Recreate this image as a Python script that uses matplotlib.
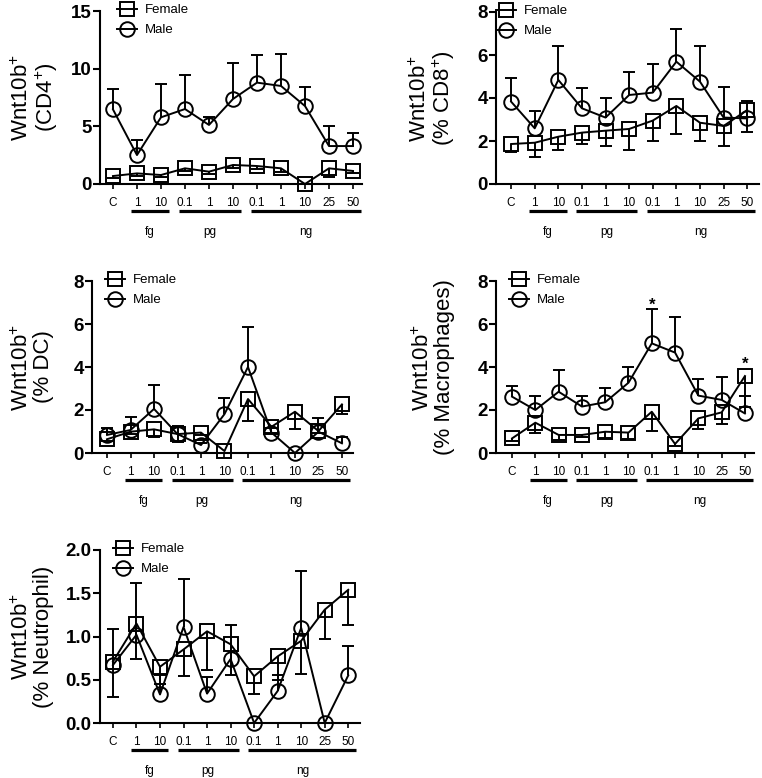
import matplotlib
matplotlib.use("Agg")
import matplotlib.pyplot as plt
import numpy as np

plt.rcParams['font.family'] = ['Liberation Sans', 'DejaVu Sans']
plt.rcParams['mathtext.fontset'] = 'custom'
plt.rcParams['mathtext.rm'] = 'Liberation Sans'
plt.rcParams['mathtext.it'] = 'Liberation Sans:italic'
plt.rcParams['mathtext.bf'] = 'Liberation Sans:bold'

# x categories (dose) and dose-unit groups
doses = ['C', '1', '10', '0.1', '1', '10', '0.1', '1', '10', '25', '50']
group_names = ['fg', 'pg', 'ng']
group_first = [1, 3, 6]
group_last = [2, 5, 10]

# CD4
cd4_female = [0.69, 0.92, 0.78, 1.36, 1.07, 1.65, 1.56, 1.36, 0.0, 1.36, 1.13]
cd4_female_err = [0.15, 0.2, 0.15, 0.25, 0.2, 0.3, 0.3, 0.3, 0.0, 0.72, 0.2]
cd4_male = [6.47, 2.51, 5.78, 6.5, 5.12, 7.37, 8.79, 8.5, 6.76, 3.29, 3.29]
cd4_male_err = [1.73, 1.29, 2.86, 2.95, 0.72, 3.08, 2.4, 2.77, 1.68, 1.74, 1.16]

# CD8
cd8_female = [1.86, 1.92, 2.2, 2.39, 2.48, 2.56, 2.95, 3.63, 2.85, 2.7, 3.44]
cd8_female_err = [0.36, 0.65, 0.62, 0.55, 0.70, 0.98, 0.93, 1.30, 0.85, 0.92, 1.01]
cd8_male = [3.83, 2.59, 4.84, 3.52, 3.09, 4.14, 4.25, 5.69, 4.76, 3.09, 3.05]
cd8_male_err = [1.08, 0.81, 1.59, 0.93, 0.89, 1.08, 1.32, 1.52, 1.67, 1.44, 0.83]

# DC
dc_female = [0.64, 0.99, 1.10, 0.88, 0.95, 0.09, 2.51, 1.22, 1.92, 1.02, 2.26]
dc_female_err = [0.1, 0.1, 0.37, 0.35, 0.1, 0.0, 1.01, 0.3, 0.8, 0.1, 0.46]
dc_male = [0.84, 1.07, 2.05, 0.88, 0.37, 1.81, 4.0, 0.95, 0.0, 0.99, 0.45]
dc_male_err = [0.34, 0.62, 1.11, 0.38, 0.1, 0.73, 1.86, 0.2, 0.0, 0.62, 0.28]

# Macrophages
mac_female = [0.68, 1.41, 0.84, 0.84, 0.99, 0.95, 1.92, 0.42, 1.61, 1.89, 3.58]
mac_female_err = [0.1, 0.46, 0.24, 0.1, 0.31, 0.31, 0.88, 0.1, 0.51, 0.54, 1.42]
mac_male = [2.62, 2.0, 2.85, 2.16, 2.36, 3.27, 5.10, 4.67, 2.67, 2.47, 1.84]
mac_male_err = [0.51, 0.67, 1.01, 0.49, 0.65, 0.75, 1.6, 1.67, 0.76, 1.08, 0.83]
mac_star_x = [6, 10]
mac_star_y = [6.85, 4.15]

# Neutrophil
neu_female = [0.71, 1.15, 0.65, 0.85, 1.06, 0.91, 0.54, 0.77, 0.95, 1.31, 1.54]
neu_female_err = [0.41, 0.41, 0.2, 0.31, 0.45, 0.35, 0.2, 0.27, 0.38, 0.34, 0.41]
neu_male = [0.67, 1.02, 0.33, 1.11, 0.34, 0.74, 0.0, 0.37, 1.10, 0.0, 0.55]
neu_male_err = [0.42, 0.6, 0.22, 0.56, 0.19, 0.39, 0.0, 0.18, 0.66, 0.0, 0.34]

W, H = 762, 778
fig = plt.figure(figsize=(W / 100, H / 100), dpi=100)


def one_sided(ax, x, y, err, up):
    x = np.asarray(x, float)
    y = np.asarray(y, float)
    err = np.asarray(err, float)
    m = err > 0
    end = y + err if up else y - err
    ax.vlines(x[m], y[m], end[m], color='k', lw=1.4, zorder=2, clip_on=False)
    ax.plot(x[m], end[m], ls='none', marker='_', ms=8, mew=1.4, color='k',
            zorder=2, clip_on=False)


def panel(rect, xlim, ymax, yticks, ylabel, female, female_err, male, male_err,
          leg_dx, label_dx, fmt='{:g}'):
    l, t, r, b = rect
    ax = fig.add_axes([l / W, 1 - b / H, (r - l) / W, (b - t) / H])
    x = np.arange(len(doses))
    one_sided(ax, x, female, female_err, up=False)
    one_sided(ax, x, male, male_err, up=True)
    lf, = ax.plot(x, female, color='k', lw=1.4, marker='s', ms=10, mfc='none',
                  mec='k', mew=1.4, clip_on=False, zorder=3, label='Female')
    lm, = ax.plot(x, male, color='k', lw=1.4, marker='o', ms=10.5, mfc='none',
                  mec='k', mew=1.4, clip_on=False, zorder=3, label='Male')
    ax.set_xlim(*xlim)
    ax.set_ylim(0, ymax)
    ax.set_yticks(yticks)
    ax.set_yticklabels([fmt.format(v) for v in yticks], fontweight='bold',
                       fontsize=13.5)
    ax.set_xticks(x)
    ax.set_xticklabels(doses, fontsize=8.5)
    for s in ['top', 'right']:
        ax.spines[s].set_visible(False)
    for s in ['left', 'bottom']:
        ax.spines[s].set_linewidth(1.5)
    ax.tick_params(axis='y', length=5, width=1.5, pad=1)
    ax.tick_params(axis='x', length=3.5, width=1.2, pad=6)
    ax.set_ylabel(ylabel, fontsize=16, linespacing=1.0)
    ax.yaxis.set_label_coords(-label_dx / (r - l), 0.5)

    # dose-unit group bars under the tick labels
    tr = ax.get_xaxis_transform()
    hpx = b - t
    for name, a, z in zip(group_names, group_first, group_last):
        ax.plot([a - 0.25, z + 0.35], [-27 / hpx] * 2, color='k', lw=2.3,
                transform=tr, clip_on=False, solid_capstyle='butt')
        ax.text((a - 0.25 + z + 0.35) / 2, -48 / hpx, name, transform=tr,
                ha='center', va='center', fontsize=8.5)

    ax.legend(handles=[lf, lm], loc='upper left', frameon=False,
              bbox_to_anchor=((leg_dx - 10) / (r - l), 1 + 7 / hpx),
              borderaxespad=0, borderpad=0, handlelength=1.5,
              handletextpad=0.6, labelspacing=0.6, fontsize=9.5)
    return ax


panel((100, 11, 362, 184), (-0.54, 10.375), 15, [0, 5, 10, 15],
      'Wnt10b$^{+}$\n(CD4$^{+}$)', cd4_female, cd4_female_err,
      cd4_male, cd4_male_err, leg_dx=27, label_dx=40)
panel((496, 12, 759, 184), (-0.64, 10.5), 8, [0, 2, 4, 6, 8],
      'Wnt10b$^{+}$\n(% CD8$^{+}$)', cd8_female, cd8_female_err,
      cd8_male, cd8_male_err, leg_dx=10, label_dx=39)
panel((92, 281, 353, 453), (-0.64, 10.47), 8, [0, 2, 4, 6, 8],
      'Wnt10b$^{+}$\n(% DC)', dc_female, dc_female_err,
      dc_male, dc_male_err, leg_dx=23, label_dx=38)
ax4 = panel((496, 281, 754, 453), (-0.69, 10.39), 8, [0, 2, 4, 6, 8],
            'Wnt10b$^{+}$\n(% Macrophages)', mac_female, mac_female_err,
            mac_male, mac_male_err, leg_dx=23, label_dx=41)
for sx, sy in zip(mac_star_x, mac_star_y):
    ax4.text(sx, sy, '*', ha='center', va='center', fontsize=12,
             fontweight='bold')
panel((100, 550, 360, 723), (-0.55, 10.5), 2.0, [0.0, 0.5, 1.0, 1.5, 2.0],
      'Wnt10b$^{+}$\n(% Neutrophil)', neu_female, neu_female_err,
      neu_male, neu_male_err, leg_dx=23, label_dx=46, fmt='{:.1f}')

fig.savefig('out.png', dpi=100)
